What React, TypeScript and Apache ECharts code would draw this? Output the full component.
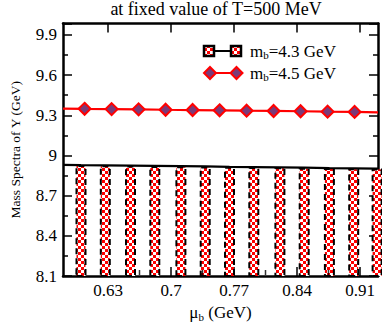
import React, { useEffect, useRef } from "react";
import * as echarts from "echarts";

const titleText = "at fixed value of T=500 MeV";
const xTicks = [0.63, 0.7, 0.77, 0.84, 0.91];
const xMinorTicks = [0.595, 0.665, 0.735, 0.805, 0.875];

// m_b = 4.3 GeV (black, checkered columns)
const barX = [0.6, 0.627, 0.655, 0.682, 0.711, 0.738, 0.765, 0.792, 0.821, 0.848, 0.876, 0.903, 0.929];
const barY = [8.928, 8.926, 8.924, 8.922, 8.92, 8.918, 8.915, 8.913, 8.911, 8.909, 8.906, 8.904, 8.902];
const line43Ends = [[0.58, 8.93], [0.93, 8.901]];

// m_b = 4.5 GeV (red, diamonds)
const diamondX = [0.604, 0.634, 0.664, 0.694, 0.724, 0.754, 0.784, 0.814, 0.844, 0.874, 0.904];
const diamondY = [9.348, 9.346, 9.344, 9.341, 9.339, 9.337, 9.334, 9.332, 9.33, 9.327, 9.325];
const line45Ends = [[0.58, 9.35], [0.93, 9.322]];

const legendLabels = ["m{s|b}=4.3 GeV", "m{s|b}=4.5 GeV"];

const FONT = "'Liberation Serif', 'Times New Roman', serif";

function makeChecker(): HTMLCanvasElement {
  const c = document.createElement("canvas");
  c.width = 6;
  c.height = 6;
  const ctx = c.getContext("2d")!;
  ctx.fillStyle = "#ffffff";
  ctx.fillRect(0, 0, 6, 6);
  ctx.fillStyle = "#ff0000";
  ctx.fillRect(0, 0, 3, 3);
  ctx.fillRect(3, 3, 3, 3);
  return c;
}

export default function App() {
  const ref = useRef<HTMLDivElement>(null);
  useEffect(() => {
    if (!ref.current) return;
    const chart = echarts.init(ref.current, null, { renderer: "svg" });
    const checker = { image: makeChecker(), repeat: "repeat" } as any;

    const barData = barX.map((x, i) => [x, barY[i]]);
    const line43 = [
      { value: line43Ends[0], symbol: "none" },
      ...barX.map((x, i) => ({ value: [x, barY[i]] })),
      { value: line43Ends[1], symbol: "none" },
    ];
    const line45 = [
      { value: line45Ends[0], symbol: "none" },
      ...diamondX.map((x, i) => ({ value: [x, diamondY[i]] })),
      { value: line45Ends[1], symbol: "none" },
    ];

    const axisLine = { show: true, lineStyle: { color: "#000", width: 2.5 } };
    const yCommon = {
      type: "value",
      min: 8.1,
      max: 9.985,
      interval: 0.3,
      axisLine,
      splitLine: { show: false },
      axisTick: { show: true, inside: true, length: 9, lineStyle: { color: "#000", width: 1.5 } },
      minorTick: { show: true, splitNumber: 2, length: 5, lineStyle: { color: "#000", width: 1.5 } },
    };

    chart.setOption({
      animation: false,
      grid: { left: 53, right: 4, top: 23.5, bottom: 40 },
      xAxis: [
        {
          type: "value",
          min: 0.58,
          max: 0.93,
          position: "bottom",
          axisLine,
          splitLine: { show: false },
          axisTick: {
            show: true,
            inside: true,
            length: 9,
            customValues: xTicks,
            lineStyle: { color: "#000", width: 1.5 },
          },
          axisLabel: {
            customValues: xTicks,
            color: "#000",
            fontFamily: FONT,
            fontSize: 17,
            margin: 6,
            formatter: (v: number) => String(Math.round(v * 100) / 100),
          },
          name: "μ{s|b} (GeV)",
          nameLocation: "middle",
          nameGap: 27,
          nameTextStyle: {
            color: "#000",
            fontFamily: FONT,
            fontSize: 17,
            rich: { s: { fontFamily: FONT, fontSize: 11, color: "#000", padding: [8, 0, 0, 0] } },
          },
        },
        {
          type: "value",
          min: 0.58,
          max: 0.93,
          position: "top",
          axisLine,
          splitLine: { show: false },
          axisTick: {
            show: true,
            inside: true,
            length: 9,
            customValues: xTicks,
            lineStyle: { color: "#000", width: 1.5 },
          },
          axisLabel: { show: false },
        },
      ],
      yAxis: [
        {
          ...yCommon,
          position: "left",
          axisLabel: { color: "#000", fontFamily: FONT, fontSize: 17, margin: 6 },
          name: "Mass Spectra of Υ (GeV)",
          nameLocation: "middle",
          nameGap: 41,
          nameTextStyle: { color: "#000", fontFamily: FONT, fontSize: 13.5 },
        },
        {
          ...yCommon,
          position: "right",
          axisLabel: { show: false },
        },
      ],
      series: [
        {
          type: "bar",
          data: barData,
          barWidth: 11,
          clip: true,
          itemStyle: {
            color: checker,
            borderColor: "#000",
            borderWidth: 2,
            borderType: [6, 4],
          },
          z: 1,
        },
        {
          type: "line",
          data: line43,
          symbol: "none",
          lineStyle: { color: "#000", width: 2.2 },
          z: 3,
        },
        {
          type: "line",
          data: line45,
          symbol: "diamond",
          symbolSize: 12,
          showAllSymbol: true,
          lineStyle: { color: "#ff0000", width: 2.2 },
          itemStyle: { color: "#7a3a78", borderColor: "#ff0000", borderWidth: 2 },
          z: 4,
        },
        {
          type: "scatter",
          data: xMinorTicks.map((x) => [x, 8.1]),
          symbol: "rect",
          symbolSize: [1.5, 5],
          symbolOffset: [0, -3.5],
          itemStyle: { color: "#000" },
          silent: true,
          z: 5,
        },
      ],
      graphic: [
        {
          type: "text",
          x: 216,
          y: 9,
          style: {
            text: titleText,
            fill: "#000",
            font: `18px ${FONT}`,
            align: "center",
            verticalAlign: "middle",
          },
        },
        // legend row 1
        { type: "line", shape: { x1: 209, y1: 51, x2: 236, y2: 51 }, style: { stroke: "#000", lineWidth: 2 } },
        { type: "rect", shape: { x: 204, y: 46, width: 10, height: 10 }, style: { fill: checker, stroke: "#000", lineWidth: 2.5 } },
        { type: "rect", shape: { x: 231, y: 46, width: 10, height: 10 }, style: { fill: checker, stroke: "#000", lineWidth: 2.5 } },
        {
          type: "text",
          x: 250,
          y: 51,
          style: {
            text: legendLabels[0],
            fill: "#000",
            font: `17px ${FONT}`,
            verticalAlign: "middle",
            rich: { s: { font: `11px ${FONT}`, fill: "#000", padding: [8, 0, 0, 0] } },
          },
        },
        // legend row 2
        { type: "line", shape: { x1: 204, y1: 73, x2: 242, y2: 73 }, style: { stroke: "#ff0000", lineWidth: 2 } },
        {
          type: "polygon",
          shape: { points: [[210, 67], [216, 73], [210, 79], [204, 73]] },
          style: { fill: "#7a3a78", stroke: "#ff0000", lineWidth: 2 },
        },
        {
          type: "polygon",
          shape: { points: [[236.5, 67], [242.5, 73], [236.5, 79], [230.5, 73]] },
          style: { fill: "#7a3a78", stroke: "#ff0000", lineWidth: 2 },
        },
        {
          type: "text",
          x: 250,
          y: 73,
          style: {
            text: legendLabels[1],
            fill: "#000",
            font: `17px ${FONT}`,
            verticalAlign: "middle",
            rich: { s: { font: `11px ${FONT}`, fill: "#000", padding: [8, 0, 0, 0] } },
          },
        },
      ],
    });
    return () => chart.dispose();
  }, []);

  return (
    <div
      ref={ref}
      style={{ position: "fixed", left: 0, top: 0, width: 382, height: 327, background: "#fff" }}
    />
  );
}
